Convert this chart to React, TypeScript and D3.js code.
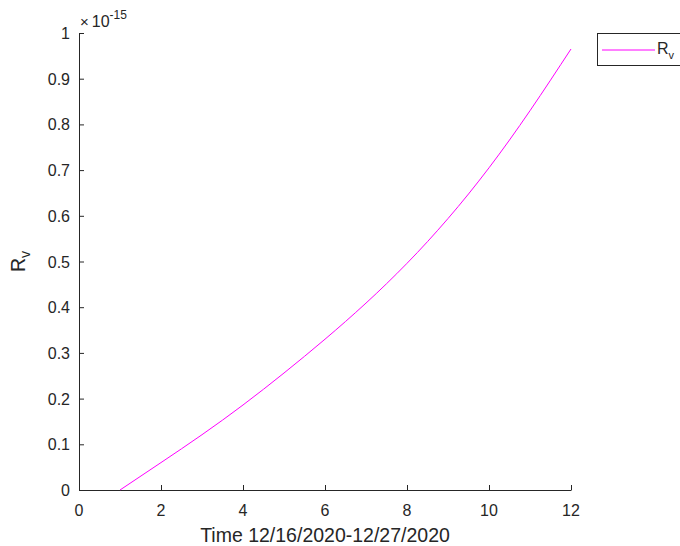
import * as d3 from "d3";
import { useEffect, useRef } from "react";

// time steps (days) and R_v values (x 1e-15)
const days = [1, 2, 3, 4, 5, 6, 7, 8, 9, 10, 11, 12];
const rv = [0, 0.06, 0.121, 0.186, 0.256, 0.33, 0.409, 0.496, 0.594, 0.705, 0.83, 0.965];

const xTicks = [0, 2, 4, 6, 8, 10, 12];
const yTicks = [0, 0.1, 0.2, 0.3, 0.4, 0.5, 0.6, 0.7, 0.8, 0.9, 1];

const xLabel = "Time 12/16/2020-12/27/2020";
const seriesName = "R";
const seriesSub = "v";

function App() {
  const ref = useRef<SVGSVGElement | null>(null);

  useEffect(() => {
    const width = 680;
    const height = 546;
    const margin = { top: 33, right: 109, bottom: 56, left: 79 };
    const axisColor = "#262626";
    const font = "'Liberation Sans', Arial, Helvetica, sans-serif";

    const svg = d3.select(ref.current);
    svg.selectAll("*").remove();

    const x = d3.scaleLinear().domain([0, 12]).range([margin.left, width - margin.right]);
    const y = d3.scaleLinear().domain([0, 1]).range([height - margin.bottom, margin.top]);

    const g = svg.append("g").attr("font-family", font);

    // x axis (ticks pointing inward)
    const xAxis = g
      .append("g")
      .attr("transform", `translate(0,${y(0)})`)
      .call(d3.axisTop(x).tickValues(xTicks).tickSize(5).tickFormat(() => "").tickSizeOuter(0));
    xAxis.select(".domain").attr("stroke", axisColor);
    xAxis.selectAll("line").attr("stroke", axisColor);

    g.append("g")
      .selectAll("text")
      .data(xTicks)
      .join("text")
      .attr("x", (d) => x(d))
      .attr("y", y(0) + 26)
      .attr("text-anchor", "middle")
      .attr("font-size", 16)
      .attr("fill", axisColor)
      .text((d) => d3.format("d")(d));

    // y axis (ticks pointing inward)
    const yAxis = g
      .append("g")
      .attr("transform", `translate(${x(0)},0)`)
      .call(d3.axisRight(y).tickValues(yTicks).tickSize(5).tickFormat(() => "").tickSizeOuter(0));
    yAxis.select(".domain").attr("stroke", axisColor);
    yAxis.selectAll("line").attr("stroke", axisColor);

    g.append("g")
      .selectAll("text")
      .data(yTicks)
      .join("text")
      .attr("x", x(0) - 9)
      .attr("y", (d) => y(d) + 6)
      .attr("text-anchor", "end")
      .attr("font-size", 16)
      .attr("fill", axisColor)
      .text((d) => (d === 0 || d === 1 ? String(d) : d3.format(".1f")(d)));

    // exponent
    const expo = g.append("text").attr("x", x(0) + 1).attr("y", 27).attr("fill", axisColor);
    expo.append("tspan").attr("font-size", 15).text("\u00d7");
    expo.append("tspan").attr("font-size", 16).attr("dx", 3).text("10");
    expo.append("tspan").attr("font-size", 12).attr("dy", -8).text("-15");

    // axis labels
    g.append("text")
      .attr("x", (x(0) + x(12)) / 2)
      .attr("y", 542)
      .attr("text-anchor", "middle")
      .attr("font-size", 19.5)
      .attr("fill", axisColor)
      .text(xLabel);

    const yl = g
      .append("text")
      .attr("transform", `translate(25,${(y(0) + y(1)) / 2}) rotate(-90)`)
      .attr("text-anchor", "middle")
      .attr("font-size", 19.5)
      .attr("fill", axisColor);
    yl.append("tspan").text(seriesName);
    yl.append("tspan").attr("font-size", 14).attr("dy", 5).text(seriesSub);

    // line
    const line = d3
      .line<number>()
      .x((_, i) => x(days[i]))
      .y((d) => y(d))
      .curve(d3.curveNatural);

    g.append("path")
      .datum(rv)
      .attr("fill", "none")
      .attr("stroke", "#ff00ff")
      .attr("stroke-width", 1)
      .attr("d", line);

    // legend
    const lg = g.append("g");
    lg.append("rect")
      .attr("x", 597.5)
      .attr("y", 33.5)
      .attr("width", 100)
      .attr("height", 32)
      .attr("fill", "white")
      .attr("stroke", axisColor);
    lg.append("line")
      .attr("x1", 602)
      .attr("x2", 655)
      .attr("y1", 50)
      .attr("y2", 50)
      .attr("stroke", "#ff00ff");
    const lt = lg.append("text").attr("x", 657).attr("y", 54).attr("fill", axisColor).attr("font-size", 16);
    lt.append("tspan").text(seriesName);
    lt.append("tspan").attr("font-size", 11).attr("dy", 5).text(seriesSub);
  }, []);

  return (
    <div>
      <svg
        ref={ref}
        width={680}
        height={546}
        style={{ position: "absolute", left: 0, top: 0, background: "white" }}
      />
    </div>
  );
}

export default App;
